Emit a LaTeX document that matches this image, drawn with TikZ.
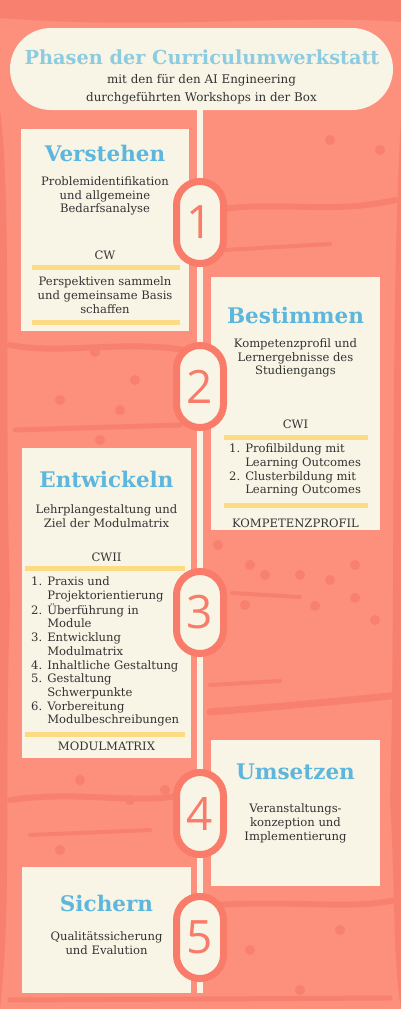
\documentclass[tikz,border=0pt]{standalone}
\usepackage{fontspec}
\setmainfont{DejaVu Serif}
\newfontfamily\numfont{Open Sans}
\definecolor{bgc}{HTML}{FD8F7D}
\definecolor{bgdark}{HTML}{F7806E}
\definecolor{cream}{HTML}{F8F5E6}
\definecolor{yel}{HTML}{FDDB83}
\definecolor{tblue}{HTML}{5DB6DC}
\definecolor{hblue}{HTML}{8DCCE0}
\definecolor{ring}{HTML}{F87C69}
\definecolor{txt}{HTML}{333333}
\tikzset{
  box/.style={fill=cream, draw=none, inner sep=0pt, anchor=north west},
  pill/.style={fill=cream, draw=ring, line width=7pt, minimum width=47pt, minimum height=82pt, rounded corners=23.5pt, inner sep=0pt, text=ring, font=\numfont\fontsize{46}{46}\selectfont},
  ttl/.style={text=tblue, font=\bfseries\fontsize{21.5}{23}\selectfont, inner sep=0pt},
  body/.style={text=txt, font=\fontsize{11.6}{13.7}\selectfont, align=center, inner sep=0pt},
  ybar/.style={yel, line width=5pt},
  streak/.style={bgdark, line cap=round},
}
\begin{document}
\begin{tikzpicture}[x=1pt,y=-1pt]
\useasboundingbox (0,0) rectangle (401,1009);
\fill[bgc] (0,0) rectangle (401,1009);
% background texture
\fill[bgdark] (0,0) -- (401,0) -- (401,22) .. controls (300,14) and (150,30) .. (0,18) -- cycle;
\fill[bgdark] (0,110) .. controls (12,200) and (4,400) .. (10,600) .. controls (4,800) and (12,900) .. (0,1009) -- cycle;
\fill[bgdark] (401,120) .. controls (390,300) and (396,600) .. (390,800) .. controls (396,900) and (392,950) .. (401,1009) -- cycle;
\draw[streak, line width=6pt] (215,210) .. controls (280,200) and (330,215) .. (395,200);
\draw[streak, line width=4pt] (225,250) -- (330,244);
\draw[streak, line width=6pt] (10,345) .. controls (60,355) and (120,340) .. (185,350);
\draw[streak, line width=5pt] (15,430) -- (180,425);
\draw[streak, line width=4pt] (232,593) -- (300,597);
\draw[streak, line width=4pt] (210,685) -- (280,681);
\draw[streak, line width=7pt] (210,712) .. controls (300,705) and (350,700) .. (400,695);
\draw[streak, line width=6pt] (10,800) .. controls (80,790) and (130,805) .. (185,795);
\draw[streak, line width=4pt] (30,835) -- (150,830);
\draw[streak, line width=6pt] (215,905) .. controls (300,900) and (350,910) .. (395,900);
\draw[streak, line width=5pt] (10,1000) -- (390,998);
\foreach \p in {(30,315),(75,325),(95,352),(60,400),(120,410),(135,380),(100,440),
  (218,545),(250,565),(265,575),(300,575),(330,580),(245,605),(315,606),(355,598),(375,620),(355,565),
  (80,780),(130,800),(60,850),(165,790),(250,950),(340,930),(300,990),(240,470),(380,150),(330,140)}
  \fill[bgdark] \p circle (5pt);
% header
\node[fill=cream, minimum width=383pt, minimum height=82pt, rounded corners=41pt, inner sep=0pt] (hdr) at (201.5,69) {};
\node[text=hblue, font=\bfseries\fontsize{19.3}{21}\selectfont, inner sep=0pt] (htitle) at (202,57) {Phasen der Curriculumwerkstatt};
\node[body, font=\fontsize{11.9}{18}\selectfont] (hsub) at (201.5,89) {mit den für den AI Engineering\\durchgeführten Workshops in der Box};
% timeline
\coordinate (ltop) at (200,110);
\coordinate (lbot) at (200,993);
\draw[cream, line width=6pt] (ltop) -- (lbot);
% boxes
\node[box, minimum width=168pt, minimum height=202pt] (b1) at (21,129) {};
\node[box, minimum width=169pt, minimum height=253pt] (b2) at (211,277) {};
\node[box, minimum width=169pt, minimum height=310pt] (b3) at (22,448) {};
\node[box, minimum width=169pt, minimum height=146pt] (b4) at (211,740) {};
\node[box, minimum width=169pt, minimum height=126pt] (b5) at (22,867) {};
% box 1
\node[ttl] (t1) at (105,153) {Verstehen};
\node[body] (d1) at (105,196) {Problemidentifikation\\und allgemeine\\Bedarfsanalyse};
\node[body] (w1) at (105,255) {CW};
\draw[ybar] (32,267) -- (180,267);
\node[body] (e1) at (105,295) {Perspektiven sammeln\\und gemeinsame Basis\\schaffen};
\draw[ybar] (32,322) -- (180,322);
% box 2
\node[ttl] (t2) at (295.5,315) {Bestimmen};
\node[body] (d2) at (295.5,358) {Kompetenzprofil und\\Lernergebnisse des\\Studiengangs};
\node[body] (w2) at (295.5,424) {CWI};
\draw[ybar] (224,437) -- (368,437);
\node[body, anchor=north west, align=left] (l2) at (229,443) {%
\begin{tabular}{@{}r@{\hspace{5pt}}l@{}}
1.&Profilbildung mit\\ &Learning Outcomes\\
2.&Clusterbildung mit\\ &Learning Outcomes
\end{tabular}};
\draw[ybar] (224,505) -- (368,505);
\node[body] (k2) at (295.5,523) {KOMPETENZPROFIL};
% box 3
\node[ttl] (t3) at (106.5,479) {Entwickeln};
\node[body] (d3) at (106.5,516.5) {Lehrplangestaltung und\\Ziel der Modulmatrix};
\node[body] (w3) at (106.5,557) {CWII};
\draw[ybar] (25,568) -- (185,568);
\node[body, anchor=north west, align=left] (l3) at (31,576) {%
\begin{tabular}{@{}r@{\hspace{5pt}}l@{}}
1.&Praxis und\\ &Projektorientierung\\
2.&Überführung in\\ &Module\\
3.&Entwicklung\\ &Modulmatrix\\
4.&Inhaltliche Gestaltung\\
5.&Gestaltung\\ &Schwerpunkte\\
6.&Vorbereitung\\ &Modulbeschreibungen
\end{tabular}};
\draw[ybar] (25,734) -- (185,734);
\node[body] (k3) at (106.5,746) {MODULMATRIX};
% box 4
\node[ttl] (t4) at (295.5,772) {Umsetzen};
\node[body] (d4) at (295.5,823.5) {Veranstaltungs-\\konzeption und\\Implementierung};
% box 5
\node[ttl] (t5) at (106.5,903) {Sichern};
\node[body] (d5) at (106.5,943) {Qualitätssicherung\\und Evalution};
% pills
\node[pill] (p1) at (200,222.5) {1};
\node[pill] (p2) at (200,386.5) {2};
\node[pill] (p3) at (200,612.5) {3};
\node[pill] (p4) at (200,813.5) {4};
\node[pill] (p5) at (200,937.5) {5};
\end{tikzpicture}
\end{document}
